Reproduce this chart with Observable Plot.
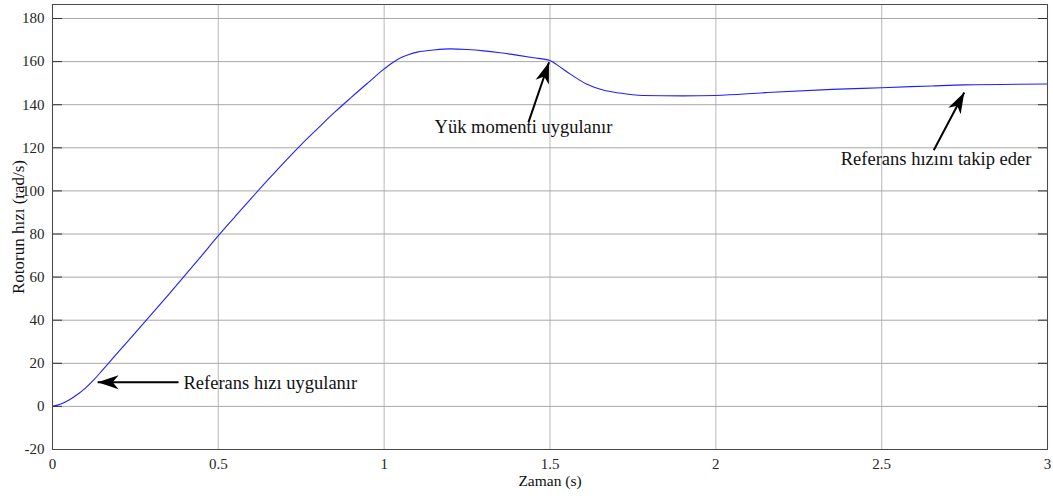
<!DOCTYPE html>
<html><head><meta charset="utf-8">
<script src="https://cdn.jsdelivr.net/npm/d3@7"></script>
<script src="https://cdn.jsdelivr.net/npm/@observablehq/plot@0.6"></script>
<style>body{margin:0;background:#fff} svg{display:block}</style>
</head><body><div id="chart"></div>
<script>
const time  = [0, 0.025, 0.05, 0.075, 0.1, 0.125, 0.15, 0.175, 0.2, 0.25, 0.3, 0.35, 0.4, 0.45, 0.5, 0.55, 0.6, 0.65, 0.7, 0.75, 0.8, 0.85, 0.9, 0.95, 1.0, 1.025, 1.05, 1.075, 1.1, 1.15, 1.2, 1.25, 1.3, 1.35, 1.4, 1.45, 1.5, 1.52, 1.56, 1.61, 1.66, 1.71, 1.78, 1.9, 2.0, 2.15, 2.35, 2.5, 2.65, 2.75, 3.0];
const speed = [0, 1.1, 3.0, 5.5, 8.6, 12.4, 16.7, 21.1, 25.5, 34.2, 43, 51.9, 60.9, 70, 79.2, 88, 96.7, 105.2, 113.5, 121.5, 129, 136.4, 143.3, 150, 156.6, 159.5, 161.8, 163.3, 164.4, 165.4, 165.9, 165.6, 165.0, 164.1, 163.0, 161.8, 160.5, 158.6, 154.3, 149.6, 146.8, 145.4, 144.3, 144.1, 144.3, 145.6, 147.1, 147.9, 148.7, 149.2, 149.6];

const xTicks = [0, 0.5, 1, 1.5, 2, 2.5, 3];
const yTicks = [-20, 0, 20, 40, 60, 80, 100, 120, 140, 160, 180];
const xLabel = "Zaman (s)";
const yLabel = "Rotorun hızı (rad/s)";

const noteText   = ["Referans hızı uygulanır", "Yük momenti uygulanır", "Referans hızını takip eder"];
const noteTipT   = [0.136, 1.497, 2.749];
const noteTipV   = [11.2, 159.7, 145.7];
const noteTailT  = [0.38, 1.435, 2.657];
const noteTailV  = [11.2, 131.8, 118.9];
const noteTextT  = [0.395, 1.42, 2.664];
const noteTextV  = [10.7, 129.8, 114.9];

const series = time.map((t, i) => ({t, v: speed[i]}));
const notes = noteText.map((text, i) => ({
  text, x1: noteTailT[i], y1: noteTailV[i], x2: noteTipT[i], y2: noteTipV[i],
  tx: noteTextT[i], ty: noteTextV[i]
}));

function headMarker(color, context) {
  const doc = context && context.document ? context.document : document;
  const ns = "http://www.w3.org/2000/svg";
  const m = doc.createElementNS(ns, "marker");
  m.setAttribute("viewBox", "-23 -8 24 16");
  m.setAttribute("markerWidth", "24");
  m.setAttribute("markerHeight", "16");
  m.setAttribute("markerUnits", "userSpaceOnUse");
  m.setAttribute("orient", "auto");
  m.setAttribute("refX", "0");
  m.setAttribute("refY", "0");
  const p = doc.createElementNS(ns, "path");
  p.setAttribute("d", "M0,0 L-21,-7 L-15,0 L-21,7 Z");
  p.setAttribute("fill", "#000");
  p.setAttribute("stroke", "none");
  m.appendChild(p);
  return m;
}

const serif = "'Liberation Serif', 'Times New Roman', serif";
const num = d => String(d);

const chart = Plot.plot({
  width: 1053,
  height: 500,
  marginLeft: 52,
  marginRight: 6,
  marginTop: 4,
  marginBottom: 51,
  style: {fontFamily: serif, fontSize: "15px", color: "#262626", background: "#fff"},
  x: {domain: [0, 3]},
  y: {domain: [-20, 186.5]},
  marks: [
    Plot.gridX(xTicks, {stroke: "#c4c4c4", strokeOpacity: 1, strokeWidth: 1.2}),
    Plot.gridY(yTicks, {stroke: "#a8a8a8", strokeOpacity: 1}),
    Plot.line(series, {x: "t", y: "v", stroke: "#2020ff", strokeWidth: 1.1, curve: "monotone-x"}),
    Plot.axisY(yTicks, {anchor: "left", tickSize: -10, tickPadding: 18, stroke: "#333", fontSize: 15, tickFormat: num, label: null}),
    Plot.axisY(yTicks, {anchor: "right", tickSize: -10, tickFormat: () => "", stroke: "#333", label: null}),
    Plot.axisX(xTicks, {anchor: "bottom", tickSize: 0, tickPadding: 9, fontSize: 15, tickFormat: num, label: null}),
    Plot.text([xLabel], {frameAnchor: "bottom", dy: 36, fontSize: 15.5, fill: "#111", fontFamily: serif}),
    Plot.text([yLabel], {frameAnchor: "left", textAnchor: "middle", dx: -34, rotate: -90, fontSize: 17, fill: "#111", fontFamily: serif}),
    Plot.frame({stroke: "#4a4a4a"}),
    Plot.link(notes, {x1: "x1", y1: "y1", x2: "x2", y2: "y2", stroke: "#000", strokeWidth: 2, markerEnd: headMarker}),
    Plot.text(notes.slice(0, 1), {x: "tx", y: "ty", text: "text", textAnchor: "start", fontSize: 18.5, fill: "#111", fontFamily: serif}),
    Plot.text(notes.slice(1), {x: "tx", y: "ty", text: "text", textAnchor: "middle", fontSize: 18.5, fill: "#111", fontFamily: serif})
  ]
});
document.getElementById("chart").appendChild(chart);
</script>
</body></html>
